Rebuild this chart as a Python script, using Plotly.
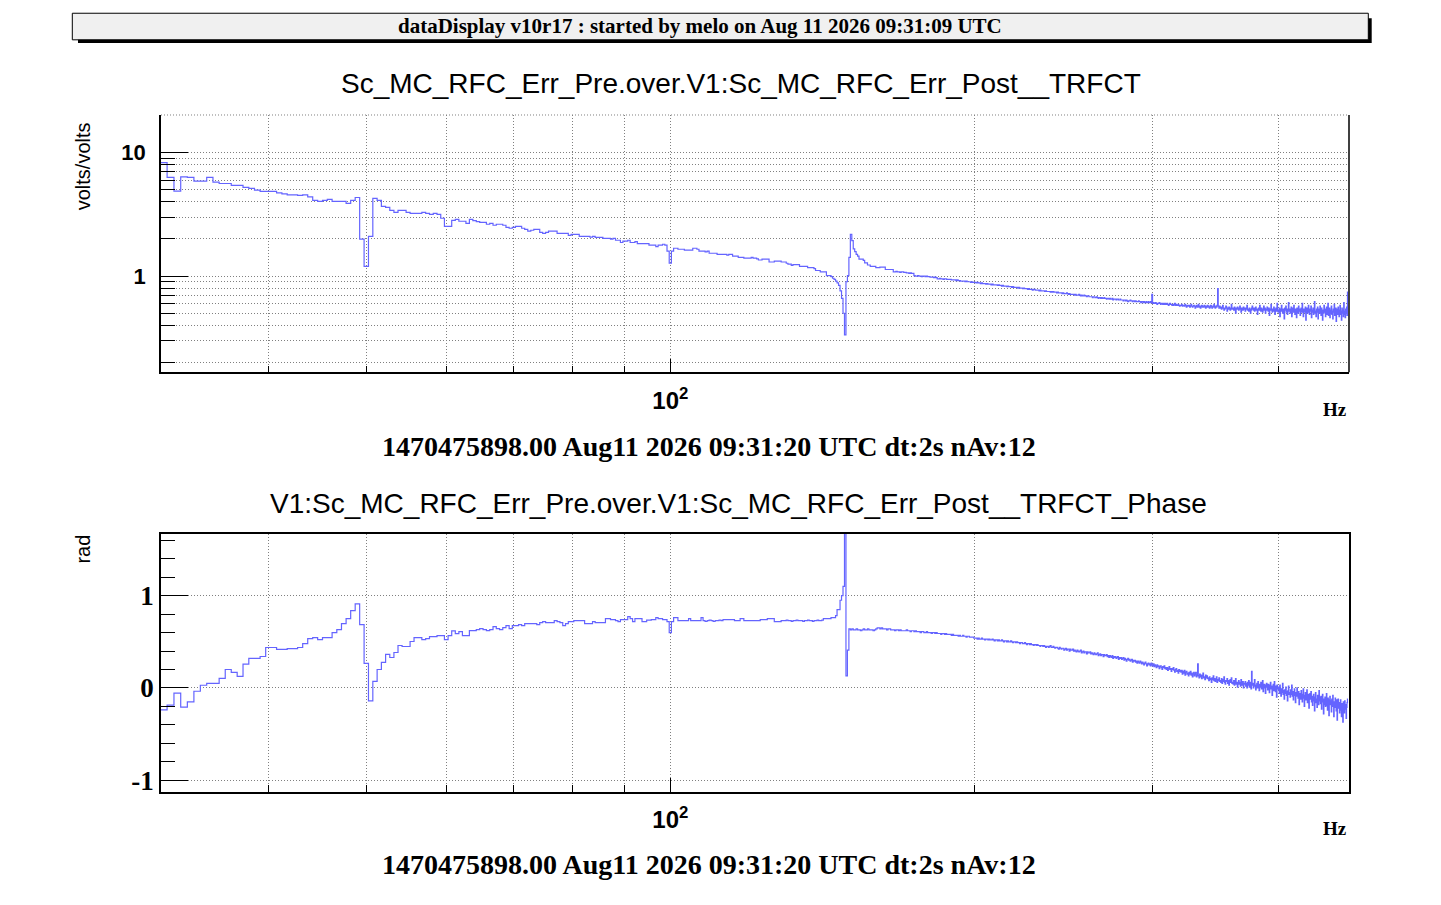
import plotly.graph_objects as go

W, H = 1441, 905

# spectrum bins: dt = 2 s -> 0.5 Hz resolution, first bin centred on 31.5 Hz
f_first = 31.5
f_step = 0.5

# transfer function magnitude (volts/volts), bins 31.5 .. 468.5 Hz
mag_031_063 = [
    8.3, 6.3, 4.87, 6.36, 6.3, 5.87, 5.87, 6.3, 5.76, 5.62,
    5.62, 5.42, 5.42, 5.22, 5.13, 4.97, 4.85, 4.85, 4.85, 4.72,
    4.63, 4.55, 4.55, 4.50, 4.55, 4.38, 4.10, 4.03, 4.10, 4.18,
    4.03, 4.03, 4.03, 3.88, 4.10, 4.33, 1.99, 1.20, 2.10, 4.26,
    4.10, 3.67, 3.60, 3.41, 3.28, 3.41, 3.41, 3.28, 3.22, 3.22,
    3.22, 3.28, 3.22, 3.16, 3.22, 3.16, 2.94, 2.53, 2.53, 2.83,
    2.88, 2.78, 2.78, 2.67,
]
mag_063_100 = [
    2.88, 2.81, 2.76, 2.72, 2.72, 2.63, 2.67, 2.58, 2.63, 2.63,
    2.58, 2.48, 2.44, 2.48, 2.53, 2.53, 2.44, 2.39, 2.31, 2.35,
    2.39, 2.39, 2.26, 2.22, 2.26, 2.31, 2.31, 2.31, 2.22, 2.22,
    2.22, 2.22, 2.14, 2.18, 2.18, 2.18, 2.10, 2.10, 2.10, 2.10,
    2.07, 2.10, 2.06, 2.06, 2.06, 2.02, 2.02, 2.02, 1.99, 2.02,
    1.95, 1.95, 1.87, 1.92, 1.92, 1.95, 1.87, 1.87, 1.90, 1.83,
    1.83, 1.83, 1.83, 1.83, 1.78, 1.78, 1.78, 1.73, 1.78, 1.78,
    1.81, 1.78, 1.59, 1.27,
]
mag_100_150 = [
    1.59, 1.68, 1.68, 1.65, 1.65, 1.65, 1.62, 1.62, 1.62, 1.62,
    1.68, 1.68, 1.65, 1.59, 1.59, 1.59, 1.57, 1.59, 1.53, 1.53,
    1.53, 1.53, 1.50, 1.50, 1.50, 1.50, 1.50, 1.48, 1.50, 1.50,
    1.45, 1.45, 1.45, 1.42, 1.42, 1.42, 1.40, 1.40, 1.40, 1.40,
    1.42, 1.40, 1.40, 1.38, 1.35, 1.35, 1.37, 1.37, 1.37, 1.37,
    1.30, 1.30, 1.30, 1.32, 1.32, 1.32, 1.32, 1.30, 1.30, 1.30,
    1.27, 1.25, 1.25, 1.22, 1.24, 1.24, 1.24, 1.24, 1.20, 1.20,
    1.20, 1.20, 1.20, 1.17, 1.17, 1.17, 1.17, 1.15, 1.11, 1.11,
    1.11, 1.08, 1.08, 1.08, 1.08, 1.01, 1.01, 1.01, 0.99, 0.96,
    0.94, 0.91, 0.88, 0.84, 0.76, 0.66, 0.50, 0.334, 0.90, 1.01,
]
mag_150_200 = [
    1.42, 2.18, 1.94, 1.66, 1.58, 1.50, 1.45, 1.37, 1.37, 1.37,
    1.34, 1.28, 1.28, 1.23, 1.23, 1.20, 1.20, 1.20, 1.20, 1.17,
    1.17, 1.17, 1.18, 1.18, 1.18, 1.18, 1.13, 1.13, 1.13, 1.13,
    1.13, 1.13, 1.08, 1.08, 1.09, 1.08, 1.08, 1.07, 1.08, 1.08,
    1.07, 1.07, 1.06, 1.06, 1.05, 1.06, 1.05, 1.05, 1.01, 1.00,
    1.00, 1.01, 1.00, 1.00, 0.99, 1.00, 1.00, 0.99, 1.00, 0.99,
    0.99, 0.98, 0.98, 0.98, 0.97, 0.98, 0.97, 0.95, 0.95, 0.96,
    0.95, 0.95, 0.94, 0.95, 0.95, 0.94, 0.94, 0.94, 0.94, 0.93,
    0.93, 0.93, 0.93, 0.92, 0.93, 0.92, 0.92, 0.91, 0.91, 0.91,
    0.91, 0.90, 0.91, 0.90, 0.90, 0.90, 0.89, 0.90, 0.89, 0.89,
]
mag_200_300 = [
    0.89, 0.88, 0.89, 0.88, 0.88, 0.87, 0.88, 0.87, 0.87, 0.87, 0.86, 0.87, 0.86, 0.86, 0.86, 0.85, 0.86, 0.85, 0.85, 0.85,
    0.85, 0.84, 0.85, 0.84, 0.84, 0.83, 0.84, 0.83, 0.83, 0.83, 0.82, 0.83, 0.82, 0.82, 0.82, 0.81, 0.82, 0.81, 0.81, 0.81,
    0.81, 0.80, 0.81, 0.80, 0.80, 0.80, 0.79, 0.80, 0.79, 0.79, 0.79, 0.78, 0.79, 0.78, 0.78, 0.78, 0.77, 0.78, 0.78, 0.77,
    0.77, 0.77, 0.77, 0.76, 0.77, 0.76, 0.76, 0.76, 0.76, 0.75, 0.76, 0.75, 0.75, 0.75, 0.75, 0.74, 0.75, 0.74, 0.75, 0.74,
    0.74, 0.74, 0.73, 0.74, 0.73, 0.73, 0.73, 0.73, 0.72, 0.73, 0.72, 0.72, 0.72, 0.73, 0.72, 0.71, 0.72, 0.71, 0.71, 0.71,
    0.71, 0.71, 0.70, 0.71, 0.70, 0.70, 0.70, 0.71, 0.70, 0.69, 0.70, 0.69, 0.69, 0.70, 0.69, 0.69, 0.68, 0.69, 0.69, 0.68,
    0.68, 0.68, 0.68, 0.67, 0.68, 0.68, 0.67, 0.67, 0.68, 0.67, 0.66, 0.67, 0.67, 0.66, 0.67, 0.66, 0.66, 0.67, 0.66, 0.66,
    0.65, 0.66, 0.66, 0.65, 0.66, 0.65, 0.65, 0.66, 0.64, 0.65, 0.65, 0.65, 0.64, 0.65, 0.65, 0.64, 0.64, 0.65, 0.64, 0.64,
    0.64, 0.63, 0.64, 0.64, 0.63, 0.64, 0.63, 0.62, 0.63, 0.63, 0.64, 0.63, 0.63, 0.62, 0.63, 0.63, 0.62, 0.63, 0.62, 0.62,
    0.62, 0.63, 0.62, 0.62, 0.61, 0.62, 0.62, 0.61, 0.62, 0.61, 0.61, 0.62, 0.61, 0.61, 0.62, 0.61, 0.61, 0.62, 0.61, 0.71,
]
mag_300_400 = [
    0.60, 0.61, 0.60, 0.60, 0.61, 0.60, 0.59, 0.60, 0.60, 0.61, 0.60, 0.59, 0.60, 0.60, 0.59, 0.60, 0.59, 0.60, 0.59, 0.59,
    0.60, 0.59, 0.58, 0.59, 0.60, 0.59, 0.59, 0.58, 0.59, 0.58, 0.59, 0.60, 0.58, 0.59, 0.58, 0.58, 0.59, 0.58, 0.57, 0.58,
    0.58, 0.59, 0.57, 0.58, 0.58, 0.57, 0.59, 0.58, 0.56, 0.57, 0.58, 0.57, 0.58, 0.56, 0.57, 0.59, 0.57, 0.56, 0.57, 0.58,
    0.57, 0.55, 0.57, 0.58, 0.56, 0.57, 0.59, 0.56, 0.57, 0.55, 0.57, 0.58, 0.56, 0.57, 0.56, 0.58, 0.57, 0.55, 0.57, 0.56,
    0.58, 0.56, 0.57, 0.55, 0.56, 0.58, 0.57, 0.55, 0.56, 0.57, 0.59, 0.56, 0.55, 0.57, 0.56, 0.58, 0.79, 0.57, 0.55, 0.57,
    0.55, 0.56, 0.54, 0.55, 0.58, 0.55, 0.53, 0.54, 0.55, 0.57, 0.56, 0.52, 0.55, 0.54, 0.56, 0.55, 0.53, 0.54, 0.59, 0.55,
    0.54, 0.55, 0.53, 0.56, 0.54, 0.50, 0.55, 0.54, 0.56, 0.55, 0.53, 0.54, 0.57, 0.55, 0.51, 0.54, 0.55, 0.53, 0.56, 0.54,
    0.55, 0.52, 0.54, 0.55, 0.58, 0.53, 0.54, 0.52, 0.55, 0.54, 0.50, 0.53, 0.55, 0.57, 0.54, 0.53, 0.55, 0.52, 0.54, 0.56,
    0.53, 0.54, 0.49, 0.54, 0.55, 0.53, 0.58, 0.54, 0.52, 0.55, 0.53, 0.51, 0.54, 0.57, 0.53, 0.55, 0.50, 0.54, 0.53, 0.56,
    0.54, 0.52, 0.55, 0.48, 0.53, 0.54, 0.59, 0.53, 0.51, 0.54, 0.52, 0.56, 0.53, 0.49, 0.54, 0.55, 0.52, 0.60, 0.53, 0.51,
]
mag_400_469 = [
    0.53, 0.55, 0.47, 0.54, 0.52, 0.58, 0.53, 0.50, 0.54, 0.52, 0.45, 0.55, 0.53, 0.57, 0.51, 0.54, 0.49, 0.53, 0.61, 0.52,
    0.54, 0.50, 0.53, 0.56, 0.47, 0.52, 0.55, 0.51, 0.58, 0.53, 0.49, 0.54, 0.52, 0.46, 0.55, 0.53, 0.50, 0.57, 0.52, 0.54,
    0.48, 0.53, 0.55, 0.51, 0.60, 0.52, 0.47, 0.54, 0.51, 0.53, 0.56, 0.44, 0.52, 0.55, 0.50, 0.53, 0.58, 0.51, 0.49, 0.54,
    0.52, 0.57, 0.46, 0.53, 0.51, 0.55, 0.49, 0.53, 0.62, 0.50, 0.52, 0.47, 0.54, 0.51, 0.56, 0.45, 0.52, 0.54, 0.50, 0.57,
    0.51, 0.48, 0.55, 0.52, 0.44, 0.53, 0.50, 0.58, 0.51, 0.54, 0.47, 0.52, 0.56, 0.49, 0.53, 0.60, 0.48, 0.51, 0.55, 0.46,
    0.53, 0.50, 0.57, 0.49, 0.52, 0.45, 0.54, 0.51, 0.59, 0.48, 0.52, 0.55, 0.43, 0.51, 0.54, 0.49, 0.56, 0.50, 0.47, 0.53,
    0.58, 0.49, 0.52, 0.44, 0.55, 0.50, 0.53, 0.47, 0.61, 0.49, 0.52, 0.46, 0.54, 0.50, 0.56, 0.48, 0.74,
]

# phase (rad), same bins
ph_031_063 = [
    -0.237, -0.187, -0.057, -0.208, -0.151, -0.036, 0.029, 0.05, 0.05, 0.104,
    0.20, 0.169, 0.126, 0.259, 0.32, 0.32, 0.341, 0.438, 0.438, 0.417,
    0.417, 0.427, 0.427, 0.438, 0.481, 0.535, 0.546, 0.524, 0.546, 0.546,
    0.60, 0.632, 0.697, 0.751, 0.837, 0.912, 0.686, 0.266, -0.14, 0.072,
    0.20, 0.277, 0.363, 0.33, 0.384, 0.46, 0.449, 0.449, 0.503, 0.546,
    0.546, 0.524, 0.535, 0.557, 0.557, 0.568, 0.568, 0.524, 0.568, 0.618,
    0.589, 0.611, 0.568, 0.568,
]
ph_063_100 = [
    0.621, 0.621, 0.632, 0.643, 0.632, 0.621, 0.632, 0.665, 0.643, 0.632,
    0.654, 0.675, 0.643, 0.675, 0.675, 0.686, 0.675, 0.697, 0.697, 0.697,
    0.697, 0.686, 0.708, 0.718, 0.708, 0.708, 0.708, 0.729, 0.718, 0.708,
    0.675, 0.697, 0.718, 0.718, 0.729, 0.729, 0.729, 0.729, 0.697, 0.697,
    0.697, 0.718, 0.708, 0.708, 0.708, 0.708, 0.751, 0.751, 0.74, 0.74,
    0.729, 0.718, 0.74, 0.74, 0.74, 0.772, 0.751, 0.718, 0.751, 0.751,
    0.751, 0.718, 0.718, 0.735, 0.735, 0.74, 0.74, 0.762, 0.751, 0.751,
    0.74, 0.74, 0.718, 0.60,
]
ph_100_150 = [
    0.718, 0.762, 0.762, 0.729, 0.729, 0.729, 0.729, 0.729, 0.751, 0.729,
    0.729, 0.729, 0.729, 0.729, 0.762, 0.729, 0.72, 0.729, 0.735, 0.729,
    0.72, 0.729, 0.729, 0.735, 0.729, 0.74, 0.74, 0.74, 0.74, 0.74,
    0.74, 0.729, 0.729, 0.729, 0.751, 0.751, 0.729, 0.729, 0.729, 0.729,
    0.729, 0.729, 0.729, 0.729, 0.729, 0.74, 0.74, 0.74, 0.74, 0.751,
    0.751, 0.751, 0.751, 0.718, 0.718, 0.718, 0.718, 0.729, 0.729, 0.729,
    0.735, 0.729, 0.729, 0.72, 0.729, 0.729, 0.735, 0.729, 0.729, 0.729,
    0.72, 0.729, 0.729, 0.735, 0.729, 0.729, 0.72, 0.729, 0.729, 0.735,
    0.729, 0.729, 0.735, 0.751, 0.751, 0.751, 0.751, 0.751, 0.762, 0.762,
    0.762, 0.783, 0.848, 0.848, 0.95, 1.0, 1.10, 1.9, 0.13, 0.41,
]
ph_150_200 = [
    0.64, 0.63, 0.64, 0.63, 0.63, 0.64, 0.63, 0.63, 0.62, 0.63,
    0.64, 0.63, 0.63, 0.64, 0.63, 0.63, 0.63, 0.62, 0.63, 0.64,
    0.65, 0.65, 0.64, 0.65, 0.64, 0.64, 0.64, 0.63, 0.64, 0.64,
    0.63, 0.63, 0.63, 0.62, 0.63, 0.63, 0.62, 0.63, 0.62, 0.62,
    0.62, 0.62, 0.63, 0.62, 0.62, 0.61, 0.62, 0.62, 0.61, 0.62,
    0.61, 0.61, 0.61, 0.60, 0.61, 0.61, 0.60, 0.60, 0.61, 0.60,
    0.60, 0.60, 0.59, 0.60, 0.60, 0.59, 0.60, 0.59, 0.59, 0.59,
    0.58, 0.59, 0.59, 0.58, 0.59, 0.58, 0.58, 0.58, 0.58, 0.57,
    0.58, 0.57, 0.57, 0.57, 0.57, 0.56, 0.57, 0.56, 0.56, 0.57,
    0.56, 0.56, 0.55, 0.56, 0.56, 0.55, 0.55, 0.55, 0.55, 0.54,
]
ph_200_300 = [
    0.54, 0.54, 0.53, 0.54, 0.53, 0.53, 0.54, 0.53, 0.53, 0.52, 0.53, 0.53, 0.52, 0.53, 0.52, 0.52, 0.53, 0.52, 0.51, 0.52,
    0.52, 0.51, 0.52, 0.51, 0.51, 0.52, 0.51, 0.50, 0.51, 0.51, 0.50, 0.51, 0.50, 0.50, 0.51, 0.50, 0.49, 0.50, 0.50, 0.49,
    0.50, 0.49, 0.49, 0.48, 0.49, 0.49, 0.48, 0.48, 0.49, 0.48, 0.47, 0.48, 0.48, 0.47, 0.48, 0.47, 0.47, 0.46, 0.47, 0.47,
    0.46, 0.47, 0.46, 0.46, 0.45, 0.46, 0.46, 0.45, 0.46, 0.45, 0.44, 0.45, 0.45, 0.44, 0.45, 0.46, 0.44, 0.44, 0.45, 0.44,
    0.43, 0.44, 0.44, 0.43, 0.42, 0.44, 0.43, 0.42, 0.43, 0.43, 0.41, 0.42, 0.43, 0.41, 0.42, 0.42, 0.40, 0.42, 0.41, 0.41,
    0.42, 0.40, 0.41, 0.40, 0.39, 0.41, 0.40, 0.39, 0.40, 0.41, 0.38, 0.39, 0.40, 0.38, 0.39, 0.39, 0.37, 0.39, 0.38, 0.38,
    0.39, 0.37, 0.38, 0.37, 0.36, 0.38, 0.37, 0.36, 0.37, 0.38, 0.35, 0.36, 0.37, 0.35, 0.36, 0.36, 0.34, 0.36, 0.35, 0.35,
    0.36, 0.34, 0.35, 0.33, 0.35, 0.34, 0.33, 0.35, 0.32, 0.34, 0.33, 0.34, 0.32, 0.33, 0.34, 0.31, 0.33, 0.32, 0.33, 0.31,
    0.32, 0.33, 0.30, 0.32, 0.31, 0.29, 0.31, 0.32, 0.30, 0.31, 0.29, 0.30, 0.31, 0.28, 0.30, 0.29, 0.30, 0.28, 0.29, 0.27,
    0.29, 0.28, 0.27, 0.29, 0.28, 0.26, 0.28, 0.27, 0.25, 0.27, 0.28, 0.26, 0.24, 0.26, 0.27, 0.25, 0.26, 0.24, 0.27, 0.25,
]
ph_300_400 = [
    0.24, 0.26, 0.23, 0.25, 0.24, 0.22, 0.25, 0.23, 0.24, 0.21, 0.23, 0.24, 0.22, 0.20, 0.23, 0.22, 0.24, 0.21, 0.22, 0.20,
    0.22, 0.19, 0.21, 0.23, 0.20, 0.21, 0.18, 0.21, 0.20, 0.22, 0.19, 0.17, 0.20, 0.21, 0.18, 0.19, 0.16, 0.20, 0.18, 0.19,
    0.17, 0.19, 0.15, 0.18, 0.16, 0.19, 0.14, 0.17, 0.18, 0.15, 0.16, 0.13, 0.17, 0.15, 0.18, 0.14, 0.16, 0.12, 0.15, 0.17,
    0.13, 0.15, 0.17, 0.12, 0.14, 0.26, 0.13, 0.11, 0.15, 0.12, 0.14, 0.10, 0.13, 0.16, 0.11, 0.12, 0.09, 0.14, 0.11, 0.13,
    0.10, 0.11, 0.08, 0.12, 0.09, 0.10, 0.06, 0.11, 0.09, 0.13, 0.08, 0.10, 0.07, 0.09, 0.12, 0.06, 0.09, 0.08, 0.11, 0.07,
    0.08, 0.06, 0.10, 0.05, 0.09, 0.07, 0.12, 0.06, 0.04, 0.08, 0.07, 0.10, 0.05, 0.08, 0.03, 0.07, 0.09, 0.06, 0.11, 0.05,
    0.06, 0.04, 0.08, 0.03, 0.07, 0.10, 0.04, 0.06, 0.01, 0.05, 0.08, 0.04, 0.06, 0.02, 0.09, 0.05, 0.03, 0.07, 0.00, 0.05,
    0.04, 0.07, 0.02, 0.05, 0.00, 0.06, 0.03, 0.08, 0.01, 0.04, 0.06, -0.01, 0.18, 0.03, 0.05, 0.00, 0.04, 0.09, 0.02, -0.02,
    0.03, 0.05, 0.00, 0.07, 0.02, -0.03, 0.04, 0.01, 0.06, -0.01, 0.03, 0.08, -0.04, 0.02, 0.04, 0.00, -0.06, 0.03, 0.05, 0.01,
    -0.02, 0.04, 0.01, -0.05, 0.03, 0.06, -0.01, 0.02, -0.08, 0.01, 0.04, -0.03, 0.07, 0.00, -0.04, 0.02, -0.10, 0.03, -0.01, 0.01,
]
ph_400_469 = [
    -0.02, -0.06, 0.03, -0.04, -0.09, -0.01, -0.05, 0.05, -0.07, -0.03, -0.12, -0.02, -0.06, 0.01, -0.08, -0.04, -0.14, -0.03, 0.02, -0.07,
    -0.05, -0.10, -0.02, -0.07, 0.03, -0.09, -0.04, -0.13, -0.06, -0.01, -0.08, -0.16, -0.05, -0.09, 0.00, -0.07, -0.11, -0.04, -0.18, -0.08,
    -0.06, -0.12, -0.03, -0.09, -0.15, -0.07, -0.01, -0.11, -0.20, -0.08, -0.05, -0.13, -0.09, -0.02, -0.16, -0.10, -0.07, -0.22, -0.11, -0.06,
    -0.12, -0.04, -0.15, -0.09, -0.19, -0.11, -0.07, -0.14, -0.25, -0.10, -0.05, -0.16, -0.12, -0.21, -0.08, -0.13, -0.18, -0.03, -0.14, -0.10,
    -0.17, -0.09, -0.23, -0.13, -0.07, -0.15, -0.28, -0.12, -0.18, -0.10, -0.20, -0.14, -0.06, -0.19, -0.24, -0.11, -0.16, -0.30, -0.13, -0.09,
    -0.18, -0.14, -0.26, -0.12, -0.20, -0.08, -0.17, -0.31, -0.15, -0.21, -0.11, -0.19, -0.25, -0.13, -0.35, -0.18, -0.12, -0.22, -0.16, -0.27,
    -0.19, -0.13, -0.24, -0.31, -0.17, -0.22, -0.37, -0.15, -0.20, -0.27, -0.14, -0.23, -0.18, -0.33, -0.21, -0.16, -0.12,
]

mag = mag_031_063 + mag_063_100 + mag_100_150 + mag_150_200 + mag_200_300 + mag_300_400 + mag_400_469
phase = ph_031_063 + ph_063_100 + ph_100_150 + ph_150_200 + ph_200_300 + ph_300_400 + ph_400_469

x_minor = [40, 50, 60, 70, 80, 90, 200, 300, 400]
mag_major = [1, 10]
mag_minor = [0.2, 0.3, 0.4, 0.5, 0.6, 0.7, 0.8, 0.9, 2, 3, 4, 5, 6, 7, 8, 9, 20]
ph_major = [-1, 0, 1]

header = "dataDisplay v10r17 : started by melo on Aug 11 2026 09:31:09 UTC"
title_mag = "Sc_MC_RFC_Err_Pre.over.V1:Sc_MC_RFC_Err_Post__TRFCT"
title_ph = "V1:Sc_MC_RFC_Err_Pre.over.V1:Sc_MC_RFC_Err_Post__TRFCT_Phase"
caption = "1470475898.00 Aug11 2026 09:31:20 UTC dt:2s nAv:12"

LINE = "#6464ff"
GRID = "#808080"
DOTS = "1px,2px"
SANS = "Liberation Sans"
SERIF = "Liberation Serif"


def edges(n):
    # step-line needs the bin edges, last value repeated at the right edge
    return [f_first - f_step / 2 + f_step * k for k in range(n + 1)]


def px(x):
    return x / W


def py(y):
    return 1 - y / H


fig = go.Figure()
fig.add_trace(go.Scatter(
    x=edges(len(mag)), y=mag + mag[-1:], mode="lines",
    line=dict(color=LINE, width=1.2, shape="hv"),
    xaxis="x", yaxis="y", hoverinfo="skip"
))
fig.add_trace(go.Scatter(
    x=edges(len(phase)), y=phase + phase[-1:], mode="lines",
    line=dict(color=LINE, width=1.2, shape="hv"),
    xaxis="x2", yaxis="y2", hoverinfo="skip"
))

x_dom = [px(161), px(1349)]
x_axis = dict(
    type="log", range=[1.4957, 2.6720], domain=x_dom,
    tickmode="array", tickvals=[100], ticktext=["10<sup>2</sup>"],
    ticks="inside", ticklen=14, tickwidth=1, tickcolor="black",
    tickfont=dict(family=SANS, size=24, color="black", weight="bold"),
    ticklabelstandoff=6,
    showline=True, linecolor="black", linewidth=1.5,
    showgrid=True, gridcolor=GRID, griddash=DOTS, gridwidth=1,
    zeroline=False,
    minor=dict(tickmode="array", tickvals=x_minor, ticks="inside", ticklen=7,
               tickcolor="black", showgrid=True, gridcolor=GRID, griddash=DOTS),
)

fig.update_layout(
    width=W, height=H, margin=dict(l=0, r=0, t=0, b=0),
    paper_bgcolor="white", plot_bgcolor="white", showlegend=False,
    xaxis=dict(x_axis, anchor="y"),
    xaxis2=dict(x_axis, anchor="y2", mirror=True),
    yaxis=dict(
        type="log", range=[-0.7798, 1.3048], domain=[py(374), py(115.5)], anchor="x",
        tickmode="array", tickvals=mag_major, ticktext=["1", "10"],
        ticks="inside", ticklen=27, tickwidth=1, tickcolor="black",
        tickfont=dict(family=SANS, size=22, color="black", weight="bold"),
        ticklabelstandoff=9,
        showline=True, linecolor="black", linewidth=1.5,
        showgrid=True, gridcolor=GRID, griddash=DOTS, gridwidth=1, zeroline=False,
        minor=dict(tickmode="array", tickvals=mag_minor, ticks="inside", ticklen=14,
                   tickcolor="black", showgrid=True, gridcolor=GRID, griddash=DOTS),
    ),
    yaxis2=dict(
        range=[-1.125, 1.672], domain=[py(795.3), py(536)], anchor="x2",
        tickmode="array", tickvals=ph_major, ticktext=["-1", "0", "1"],
        ticks="inside", ticklen=27, tickwidth=1, tickcolor="black",
        tickfont=dict(family=SERIF, size=27, color="black", weight="bold"),
        ticklabelstandoff=0,
        showline=True, linecolor="black", linewidth=1.5, mirror=True,
        showgrid=True, gridcolor=GRID, griddash=DOTS, gridwidth=1, zeroline=False,
        minor=dict(dtick=0.2, tick0=0, ticks="inside", ticklen=14, tickcolor="black",
                   showgrid=False),
    ),
)

# frame pieces ROOT draws on the upper pad
fig.add_shape(type="line", xref="x domain", yref="y domain", x0=1, x1=1, y0=0, y1=1,
              line=dict(color="black", width=1.5))
fig.add_shape(type="line", xref="x domain", yref="y domain", x0=0, x1=1, y0=1, y1=1,
              line=dict(color=GRID, width=1, dash=DOTS))

# header box with its shadow
fig.add_shape(type="rect", xref="paper", yref="paper",
              x0=px(78), x1=px(1371.7), y0=py(43.3), y1=py(18.3),
              fillcolor="black", line=dict(width=0))
fig.add_shape(type="rect", xref="paper", yref="paper",
              x0=px(72.3), x1=px(1368.3), y0=py(40), y1=py(13.3),
              fillcolor="#f0f0f0", line=dict(color="black", width=1))


def label(text, x, y, family, size, bold=False, angle=0):
    fig.add_annotation(
        text=text, x=px(x), y=py(y), xref="paper", yref="paper",
        xanchor="center", yanchor="middle", showarrow=False, textangle=angle,
        font=dict(family=family, size=size, color="black",
                  weight="bold" if bold else "normal"),
    )


label(header, 699.5, 26, SERIF, 21, bold=True)
label(title_mag, 740.5, 84, SANS, 28)
label(title_ph, 738.5, 506, SANS, 28)
label("volts/volts", 83, 167, SANS, 20, angle=-90)
label("rad", 83, 552, SANS, 20, angle=-90)
label("Hz", 1335, 411, SERIF, 19, bold=True)
label("Hz", 1335, 832, SERIF, 19, bold=True)
label(caption, 709, 448, SERIF, 28, bold=True)
label(caption, 709, 868, SERIF, 28, bold=True)

fig.write_html("out.html", config={"displayModeBar": False},
               post_script="document.body.style.margin='0px';")
